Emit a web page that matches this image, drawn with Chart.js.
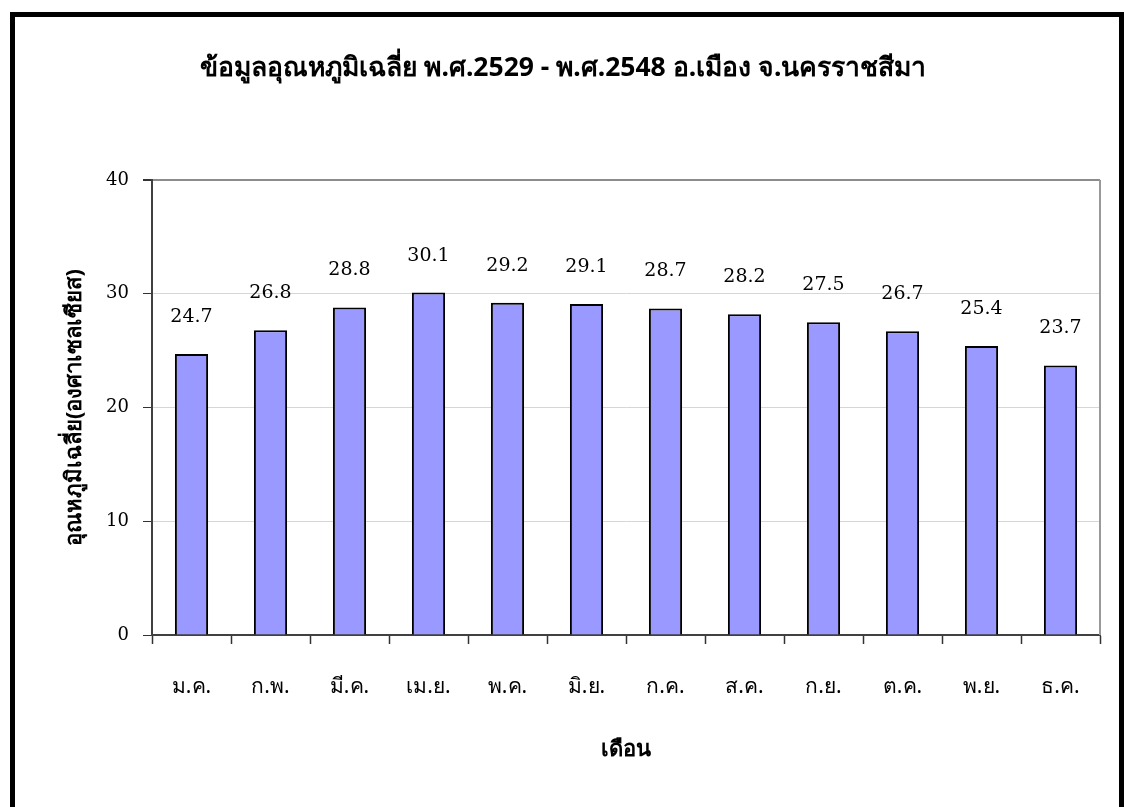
<!DOCTYPE html>
<html>
<head>
<meta charset="utf-8">
<script src="https://cdn.jsdelivr.net/npm/chart.js@4.4.0/dist/chart.umd.min.js"></script>
<style>
  body { margin: 0; background: #fff; }
  #wrap { width: 1124px; height: 807px; position: relative; }
</style>
</head>
<body>
<div id="wrap"><canvas id="tempChart"></canvas></div>
<script>
// average temperature, Nakhon Ratchasima
const months = ['ม.ค.', 'ก.พ.', 'มี.ค.', 'เม.ย.', 'พ.ค.', 'มิ.ย.', 'ก.ค.', 'ส.ค.', 'ก.ย.', 'ต.ค.', 'พ.ย.', 'ธ.ค.'];
const avgTemp = [24.7, 26.8, 28.8, 30.1, 29.2, 29.1, 28.7, 28.2, 27.5, 26.7, 25.4, 23.7];
const chartTitle = 'ข้อมูลอุณหภูมิเฉลี่ย พ.ศ.2529 - พ.ศ.2548 อ.เมือง จ.นครราชสีมา';
const yTitle = 'อุณหภูมิเฉลี่ย(องศาเซลเซียส)';
const xTitle = 'เดือน';

const thaiFont = "Tahoma, 'Noto Sans', 'DejaVu Sans', sans-serif";
const numFont = "'DejaVu Serif', 'Liberation Serif', serif";

// title, outer frame, plot frame and value labels
const extras = {
  id: 'extras',
  beforeDraw(chart) {
    const ctx = chart.ctx;
    ctx.save();
    ctx.fillStyle = '#fff';
    ctx.fillRect(0, 0, chart.width, chart.height);
    ctx.restore();
  },
  afterDraw(chart) {
    const ctx = chart.ctx;
    const a = chart.chartArea;
    ctx.save();
    // title (centred on the whole picture, not on the chart box)
    ctx.fillStyle = '#000';
    ctx.font = 'bold 26.5px ' + thaiFont;
    ctx.textAlign = 'center';
    ctx.textBaseline = 'middle';
    ctx.fillText(chartTitle, 563, 68);
    // right edge of plot area
    ctx.strokeStyle = '#999';
    ctx.lineWidth = 2;
    ctx.beginPath();
    ctx.moveTo(a.right, a.top);
    ctx.lineTo(a.right, a.bottom);
    ctx.stroke();
    // value labels
    ctx.font = '19px ' + numFont;
    chart.getDatasetMeta(0).data.forEach((bar, i) => {
      ctx.fillText(avgTemp[i].toFixed(1), bar.x, bar.y - 37);
    });
    // outer black border
    ctx.strokeStyle = '#000';
    ctx.lineWidth = 5;
    ctx.strokeRect(12.5, 14.5, 1109, 810);
    ctx.restore();
  }
};

const ctx = document.getElementById('tempChart').getContext('2d');
const myChart = new Chart(ctx, {
  type: 'bar',
  data: {
    labels: months,
    datasets: [{
      data: avgTemp,
      backgroundColor: '#9999ff',
      borderColor: '#000',
      borderWidth: 2,
      barPercentage: 0.42,
      categoryPercentage: 1.0
    }]
  },
  options: {
    responsive: true,
    maintainAspectRatio: false,
    animation: false,
    layout: { padding: { left: 0, right: 24, top: 180, bottom: 0 } },
    plugins: {
      legend: { display: false },
      tooltip: { enabled: false },
      title: { display: false }
    },
    scales: {
      x: {
        grid: { drawOnChartArea: false, drawTicks: true, offset: true, tickLength: 9, tickColor: '#333', tickWidth: 1.5 },
        border: { color: '#404040', width: 2 },
        ticks: { color: '#000', font: { family: thaiFont, size: 21 }, padding: 30, maxRotation: 0 },
        title: {
          display: true, text: xTitle, color: '#000',
          font: { family: thaiFont, size: 22, weight: 'bold', lineHeight: 1.2 },
          padding: { top: 0, bottom: 44 }
        },
        afterFit(scale) { scale.height = 172; }
      },
      y: {
        min: 0,
        max: 40,
        ticks: { stepSize: 10, color: '#000', font: { family: numFont, size: 18 }, padding: 14 },
        grid: {
          color: c => c.tick && c.tick.value === 40 ? '#8c8c8c' : '#d6d6d6',
          lineWidth: c => c.tick && c.tick.value === 40 ? 2 : 1,
          tickLength: 9,
          tickColor: '#333'
        },
        border: { color: '#404040', width: 2 },
        title: {
          display: true, text: yTitle, color: '#000',
          font: { family: thaiFont, size: 22, weight: 'bold', lineHeight: 1.2 },
          padding: { top: 62, bottom: 0 }
        },
        afterFit(scale) { scale.width = 152; }
      }
    }
  },
  plugins: [extras]
});
</script>
</body>
</html>
